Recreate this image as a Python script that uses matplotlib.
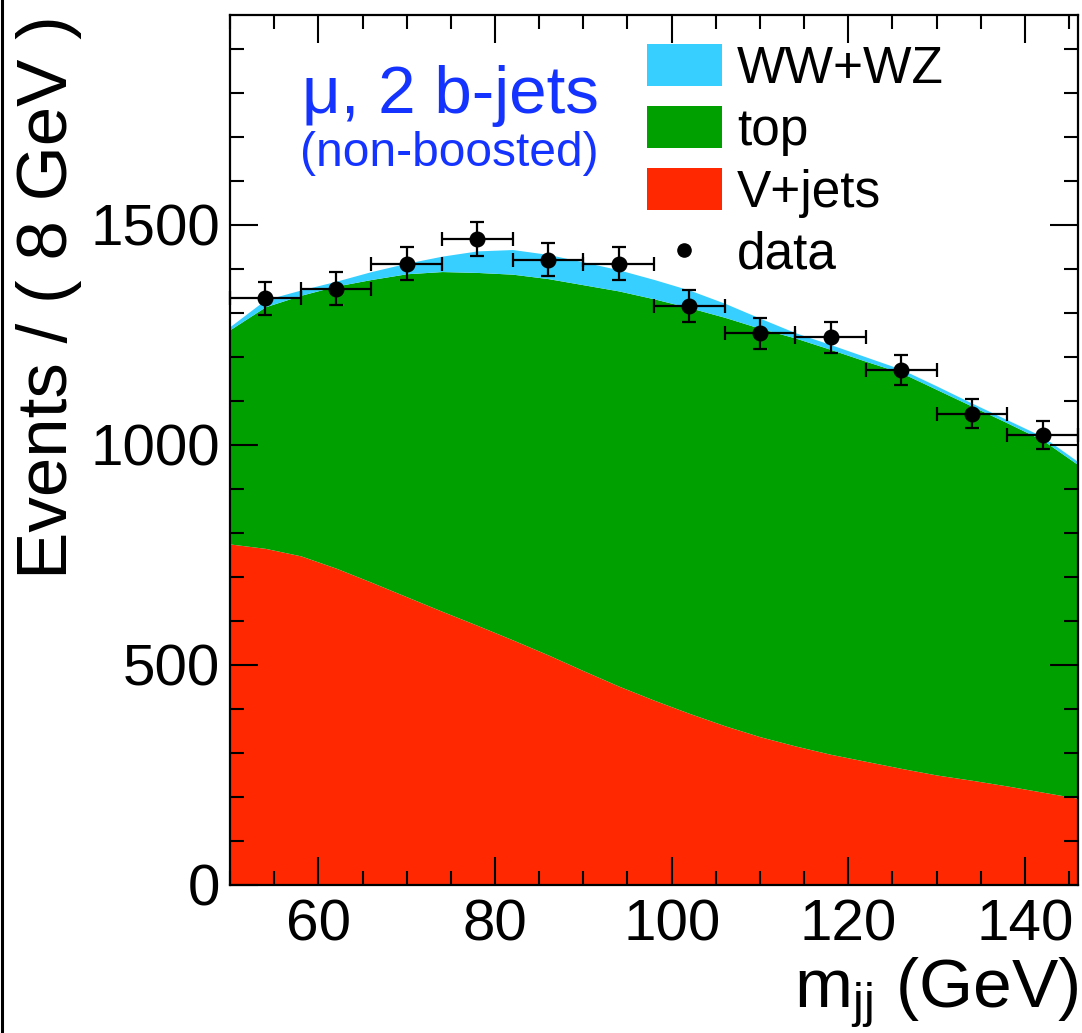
import numpy as np
import matplotlib
matplotlib.use("Agg")
import matplotlib.pyplot as plt
from matplotlib.patches import Patch
from matplotlib.lines import Line2D
from matplotlib.ticker import MultipleLocator

plt.rcParams['font.family'] = ['Liberation Sans', 'DejaVu Sans']
plt.rcParams['mathtext.fontset'] = 'custom'
plt.rcParams['mathtext.rm'] = 'Liberation Sans'
plt.rcParams['mathtext.it'] = 'Liberation Sans'

# ---- data ----
mjj_grid = [50, 54, 58, 62, 66, 70, 74, 78, 82, 86, 90, 94, 98, 102, 106, 110,
            114, 118, 122, 126, 130, 134, 138, 142, 146]
vjets = [775, 765, 748, 720, 688, 655, 622, 590, 557, 523, 487, 452, 420, 390,
         362, 337, 316, 297, 281, 265, 250, 238, 225, 211, 197]
top = [487, 549, 592, 641, 688, 734, 772, 802, 831, 855, 877, 898, 912, 922,
       928, 928, 927, 920, 909, 899, 876, 850, 825, 800, 758]
diboson = [7, 16, 12, 11, 18, 24, 35, 49, 56, 55, 52, 48, 44, 40, 32, 23,
           12, 11, 10, 8, 8, 7, 7, 8, 7]

data_x = [54, 62, 70, 78, 86, 94, 102, 110, 118, 126, 134, 142]
data_y = [1333, 1355, 1412, 1468, 1421, 1412, 1316, 1254, 1245, 1171, 1071, 1022]
data_err = [37, 37, 38, 38, 38, 38, 36, 35, 35, 34, 33, 32]
bin_half = [4] * len(data_x)

labels = ['WW+WZ', 'top', 'V+jets', 'data']
colors = ['#36cfff', '#00a000', '#ff2800']

# ---- figure ----
W, H = 1082, 1033
fig = plt.figure(figsize=(W / 100, H / 100), dpi=100)
ax = fig.add_axes([230 / W, 1 - 885 / H, 848 / W, 870 / H])

x = np.array(mjj_grid, dtype=float)
v = np.array(vjets, dtype=float)
t = v + np.array(top, dtype=float)
d = t + np.array(diboson, dtype=float)

ax.fill_between(x, 0, v, color=colors[2], lw=0, zorder=1)
ax.fill_between(x, v, t, color=colors[1], lw=0, zorder=1)
ax.fill_between(x, t, d, color=colors[0], lw=0, zorder=1)

ax.errorbar(data_x, data_y, yerr=data_err, xerr=bin_half, fmt='o', color='black',
            ms=10.5, elinewidth=1.6, capsize=5, capthick=1.6, zorder=5, clip_on=False)

ax.set_xlim(50, 146)
ax.set_ylim(0, 1977)
ax.xaxis.set_major_locator(MultipleLocator(20))
ax.xaxis.set_minor_locator(MultipleLocator(5))
ax.yaxis.set_major_locator(MultipleLocator(500))
ax.yaxis.set_minor_locator(MultipleLocator(100))
ax.tick_params(which='both', direction='in', top=True, right=True, width=1.5,
               labelsize=42, colors='black')
ax.tick_params(which='major', length=20)
ax.tick_params(which='minor', length=10)
ax.tick_params(axis='x', which='major', pad=10)
ax.tick_params(axis='y', which='major', pad=7)
for s in ax.spines.values():
    s.set_linewidth(1.6)

ax.set_ylabel('Events / ( 8 GeV )', fontsize=51, loc='top')
ax.yaxis.set_label_coords(-0.175, 1.0)
ax.set_xlabel(r'm$_{\mathrm{jj}}$ (GeV)', fontsize=50, loc='right')
ax.xaxis.set_label_coords(1.0, -0.080)

fig.text(302 / W, 1 - 113 / H, 'μ, 2 b-jets', color='#1433ff', fontsize=48.5,
         ha='left', va='baseline')
fig.text(300 / W, 1 - 166 / H, '(non-boosted)', color='#1433ff', fontsize=34.5,
         ha='left', va='baseline')

handles = [Patch(facecolor=colors[0], edgecolor='none'),
           Patch(facecolor=colors[1], edgecolor='none'),
           Patch(facecolor=colors[2], edgecolor='none'),
           Line2D([], [], marker='o', color='black', ls='none', ms=9.5)]
leg = ax.legend(handles, labels, loc='upper left',
                bbox_to_anchor=(647 / W, 1 - 44 / H), bbox_transform=fig.transFigure,
                frameon=False, fontsize=37, handlelength=1.45, handleheight=0.88,
                handletextpad=0.3, labelspacing=0.24, borderpad=0, borderaxespad=0)

fig.add_artist(Line2D([0.0014, 0.0014], [0, 1], transform=fig.transFigure,
                      color='black', lw=2.2))

fig.savefig('out.png', dpi=100)
